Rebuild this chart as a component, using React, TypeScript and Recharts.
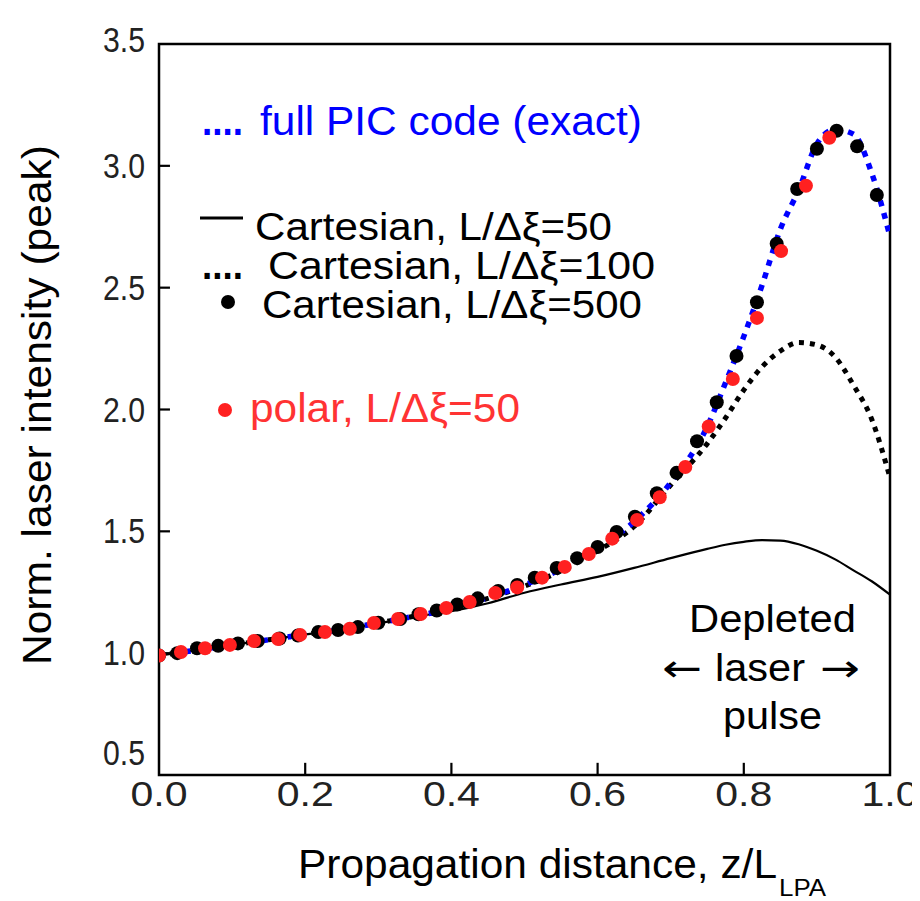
import React from 'react';
import { ComposedChart, Line, Scatter, XAxis, YAxis, ReferenceArea } from 'recharts';

// ---- data ----
const xGrid = [0, 0.05, 0.1, 0.15, 0.2, 0.25, 0.3, 0.35, 0.4, 0.45, 0.5, 0.55, 0.6, 0.65, 0.7, 0.75, 0.775, 0.8, 0.825, 0.85, 0.875, 0.9, 0.925, 0.95, 0.975, 1.0];
const fullPIC = [0.99, 1.012, 1.034, 1.055, 1.077, 1.097, 1.124, 1.152, 1.182, 1.228, 1.28, 1.345, 1.43, 1.54, 1.70, 1.93, 2.11, 2.30, 2.51, 2.74, 2.90, 3.09, 3.15, 3.13, 2.97, 2.71];
const cart100 = [0.99, 1.012, 1.034, 1.055, 1.077, 1.097, 1.124, 1.152, 1.182, 1.225, 1.275, 1.338, 1.42, 1.52, 1.69, 1.86, 1.965, 2.08, 2.175, 2.24, 2.275, 2.265, 2.215, 2.1, 1.96, 1.72];
const cart50 = [0.99, 1.012, 1.034, 1.055, 1.077, 1.097, 1.122, 1.15, 1.172, 1.205, 1.248, 1.282, 1.313, 1.35, 1.39, 1.428, 1.445, 1.457, 1.464, 1.462, 1.447, 1.42, 1.385, 1.34, 1.295, 1.24];

const cart500X = [0.0, 0.025, 0.052, 0.081, 0.108, 0.135, 0.165, 0.19, 0.218, 0.245, 0.272, 0.3, 0.33, 0.355, 0.38, 0.408, 0.436, 0.464, 0.49, 0.514, 0.544, 0.572, 0.6, 0.626, 0.651, 0.681, 0.708, 0.736, 0.763, 0.79, 0.818, 0.845, 0.873, 0.9, 0.927, 0.955, 0.982];
const cart500Y = [0.99, 1.0, 1.02, 1.03, 1.04, 1.05, 1.06, 1.072, 1.087, 1.095, 1.107, 1.125, 1.14, 1.16, 1.175, 1.2, 1.225, 1.255, 1.28, 1.31, 1.35, 1.39, 1.436, 1.497, 1.56, 1.656, 1.74, 1.87, 2.03, 2.22, 2.44, 2.68, 2.905, 3.07, 3.144, 3.08, 2.88];

const polarX = [0.0, 0.03, 0.063, 0.097, 0.13, 0.163, 0.193, 0.227, 0.261, 0.294, 0.327, 0.358, 0.393, 0.425, 0.46, 0.49, 0.524, 0.555, 0.588, 0.62, 0.654, 0.685, 0.72, 0.752, 0.785, 0.818, 0.851, 0.885, 0.917];
const polarY = [0.99, 1.005, 1.02, 1.034, 1.05, 1.058, 1.075, 1.087, 1.10, 1.124, 1.14, 1.161, 1.185, 1.21, 1.247, 1.27, 1.31, 1.354, 1.407, 1.47, 1.547, 1.64, 1.764, 1.93, 2.125, 2.376, 2.65, 2.918, 3.115];

const xTicks = [0, 0.2, 0.4, 0.6, 0.8, 1.0];
const yTicks = [0.5, 1.0, 1.5, 2.0, 2.5, 3.0, 3.5];

const legendPIC = 'full PIC code (exact)';
const legend50 = 'Cartesian, L/Δξ=50';
const legend100 = 'Cartesian, L/Δξ=100';
const legend500 = 'Cartesian, L/Δξ=500';
const legendPolar = 'polar, L/Δξ=50';
const yTitle = 'Norm. laser intensity (peak)';
const xTitle = 'Propagation distance, z/L';
const xTitleSub = 'LPA';

const toPts = (xs: number[], ys: number[]) => xs.map((x, i) => ({ x, y: ys[i] }));
const picData = toPts(xGrid, fullPIC);
const c100Data = toPts(xGrid, cart100);
const c50Data = toPts(xGrid, cart50);
const c500Data = toPts(cart500X, cart500Y);
const polarData = toPts(polarX, polarY);

// inward tick mark lengths, in data units
const X_TICK_LEN = 0.05;
const Y_TICK_LEN = 0.015;
const xTickMarks = xTicks.slice(1, -1).map((t) => [{ x: t, y: 0.5 }, { x: t, y: 0.5 + X_TICK_LEN }]);
const yTickMarks = yTicks.slice(1, -1).map((t) => [{ x: 0, y: t }, { x: Y_TICK_LEN, y: t }]);

const FONT = '"Liberation Sans", Arial, Helvetica, sans-serif';
const RED = '#ff2020';
const BLUE = '#0000ff';

const XTick = (props: any) => {
  const { x, y, payload } = props;
  return (
    <text x={x} y={y + 31} textAnchor="middle" fontSize={35} fontFamily={FONT} fill="#222" textLength={57} lengthAdjust="spacingAndGlyphs">
      {Number(payload.value).toFixed(1)}
    </text>
  );
};

const YTick = (props: any) => {
  const { x, y, payload } = props;
  const v = Number(payload.value);
  const dy = v === 0.5 ? -22 : v === 3.5 ? -4 : 0;
  return (
    <text x={x - 14} y={y + 12 + dy} textAnchor="end" fontSize={35} fontFamily={FONT} fill="#222" textLength={42} lengthAdjust="spacingAndGlyphs">
      {v.toFixed(1)}
    </text>
  );
};

const Dot = (color: string) => (p: any) => <circle cx={p.cx} cy={p.cy} r={7} fill={color} />;

export default function App() {
  return (
    <div style={{ position: 'relative', width: 904, height: 893, fontFamily: FONT }}>
      <ComposedChart width={904} height={893} margin={{ top: 36, right: 22, left: 91, bottom: 86 }}>
        <XAxis dataKey="x" type="number" domain={[0, 1]} ticks={xTicks} tick={<XTick />} tickSize={0} tickMargin={0} tickLine={false} axisLine={false} height={40} allowDataOverflow />
        <YAxis dataKey="y" type="number" domain={[0.5, 3.5]} ticks={yTicks} tick={<YTick />} tickSize={0} tickMargin={0} tickLine={false} axisLine={false} width={60} allowDataOverflow />
        {xTickMarks.map((d, i) => (
          <Line key={'xt' + i} data={d} dataKey="y" type="linear" stroke="#000" strokeWidth={2.2} dot={false} activeDot={false} isAnimationActive={false} />
        ))}
        {yTickMarks.map((d, i) => (
          <Line key={'yt' + i} data={d} dataKey="y" type="linear" stroke="#000" strokeWidth={2.2} dot={false} activeDot={false} isAnimationActive={false} />
        ))}
        <Line data={c50Data} dataKey="y" type="monotone" stroke="#000" strokeWidth={2.2} dot={false} activeDot={false} isAnimationActive={false} />
        <Line data={c100Data} dataKey="y" type="monotone" stroke="#000" strokeWidth={5} strokeDasharray="5 6" dot={false} activeDot={false} isAnimationActive={false} />
        <Line data={picData} dataKey="y" type="monotone" stroke={BLUE} strokeWidth={5.5} strokeDasharray="6 7" dot={false} activeDot={false} isAnimationActive={false} />
        <Scatter data={c500Data} dataKey="y" fill="#000" shape={Dot('#000')} isAnimationActive={false} />
        <Scatter data={polarData} dataKey="y" fill={RED} shape={Dot(RED)} isAnimationActive={false} />
        <ReferenceArea x1={0} x2={1} y1={0.5} y2={3.5} fill="none" fillOpacity={0} stroke="#000" strokeWidth={2.5} ifOverflow="visible" />
      </ComposedChart>
      <svg width={920} height={901} style={{ position: 'absolute', left: -8, top: -8, pointerEvents: 'none', overflow: 'visible' }}>
        <g fontFamily={FONT}>
          <text x={202} y={135} fontSize={40} fontWeight="bold" fill={BLUE} textLength={41} lengthAdjust="spacingAndGlyphs">....</text>
          <text x={260} y={135} fontSize={41} fill={BLUE} textLength={382} lengthAdjust="spacingAndGlyphs">{legendPIC}</text>

          <line x1={200} y1={218} x2={243} y2={218} stroke="#000" strokeWidth={3} />
          <text x={255} y={240} fontSize={38} fill="#000" textLength={357} lengthAdjust="spacingAndGlyphs">{legend50}</text>

          <text x={202} y={279} fontSize={40} fontWeight="bold" fill="#000" textLength={41} lengthAdjust="spacingAndGlyphs">....</text>
          <text x={268} y={279} fontSize={38} fill="#000" textLength={387} lengthAdjust="spacingAndGlyphs">{legend100}</text>

          <circle cx={228} cy={302} r={7} fill="#000" />
          <text x={262} y={318} fontSize={38} fill="#000" textLength={380} lengthAdjust="spacingAndGlyphs">{legend500}</text>

          <circle cx={225} cy={410} r={7} fill={RED} />
          <text x={250} y={422} fontSize={40} fill="#ff3333" textLength={270} lengthAdjust="spacingAndGlyphs">{legendPolar}</text>

          <text x={689} y={632} fontSize={38} fill="#000" textLength={167} lengthAdjust="spacingAndGlyphs">Depleted</text>
          <text x={662} y={681} fontSize={38} fontFamily="DejaVu Sans" fill="#000" textLength={40} lengthAdjust="spacingAndGlyphs">←</text>
          <text x={715} y={681} fontSize={38} fill="#000" textLength={90} lengthAdjust="spacingAndGlyphs">laser</text>
          <text x={820} y={681} fontSize={38} fontFamily="DejaVu Sans" fill="#000" textLength={40} lengthAdjust="spacingAndGlyphs">→</text>
          <text x={723} y={729} fontSize={38} fill="#000" textLength={99} lengthAdjust="spacingAndGlyphs">pulse</text>

          <text transform="translate(51, 405) rotate(-90)" x={0} y={0} textAnchor="middle" fontSize={40} fill="#000" textLength={520} lengthAdjust="spacingAndGlyphs">{yTitle}</text>

          <text x={298} y={878} fontSize={40} fill="#000" textLength={479} lengthAdjust="spacingAndGlyphs">{xTitle}</text>
          <text x={779} y={896} fontSize={24} fill="#000" textLength={47} lengthAdjust="spacingAndGlyphs">{xTitleSub}</text>
        </g>
      </svg>
    </div>
  );
}
